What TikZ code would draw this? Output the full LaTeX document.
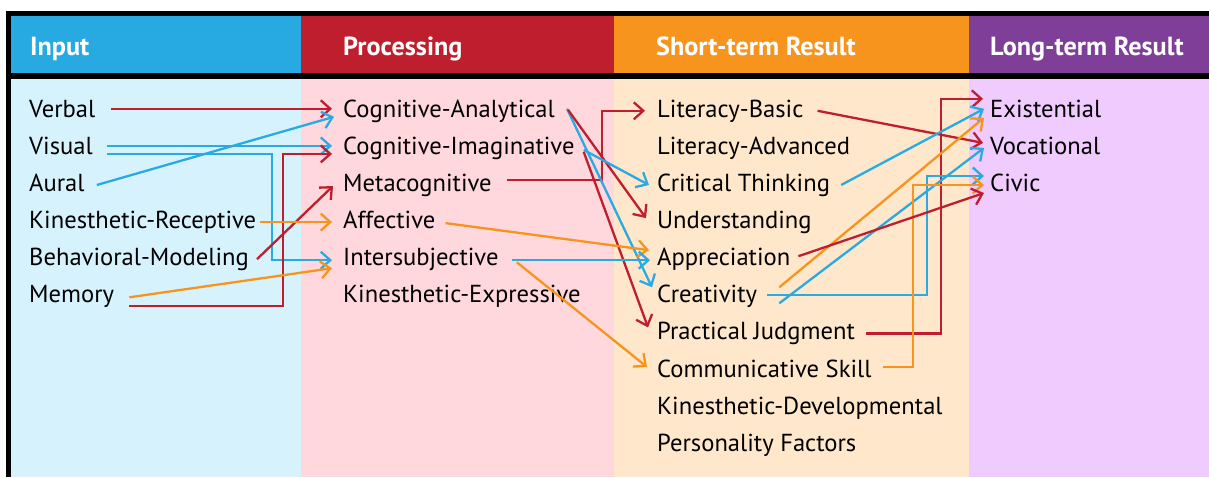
\documentclass[tikz,border=0pt]{standalone}
\usepackage{fontspec}
\setmainfont{PT Sans}
\usetikzlibrary{arrows.meta,calc}
\definecolor{hblue}{HTML}{27AAE1}
\definecolor{hred}{HTML}{BE1E2D}
\definecolor{horange}{HTML}{F7941E}
\definecolor{hpurple}{HTML}{7F3F98}
\definecolor{bblue}{HTML}{D6F3FD}
\definecolor{bpink}{HTML}{FFD8DD}
\definecolor{bpeach}{HTML}{FFE7CB}
\definecolor{blav}{HTML}{EFCBFE}
\definecolor{lred}{HTML}{BE1E2D}
\definecolor{lblue}{HTML}{29ABE2}
\definecolor{lorange}{HTML}{F7941E}
\begin{document}
\begin{tikzpicture}[x=1pt,y=-1pt,
  lbl/.style={anchor=base west, inner xsep=0pt, inner ysep=0pt, text height=17pt, text depth=0pt, font=\fontsize{24.6}{28}\selectfont},
  hdr/.style={anchor=base west, inner sep=0pt, text=white, font=\fontsize{26.2}{30}\selectfont\bfseries},
  conn/.style={line width=2.3pt, -{Straight Barb[length=9.5pt,width=17pt]}},
  cr/.style={conn, draw=lred},
  cb/.style={conn, draw=lblue},
  co/.style={conn, draw=lorange}]
\useasboundingbox (0,0) rectangle (1209,477);
% backgrounds
\fill[white] (0,0) rectangle (1209,477);
\fill[hblue] (11,16) rectangle (301,73);
\fill[hred] (301,16) rectangle (614,73);
\fill[horange] (614,16) rectangle (969,73);
\fill[hpurple] (969,16) rectangle (1209,73);
\fill[bblue] (11,79) rectangle (301,477);
\fill[bpink] (301,79) rectangle (614,477);
\fill[bpeach] (614,79) rectangle (969,477);
\fill[blav] (969,79) rectangle (1209,477);
\fill[black] (6,11) rectangle (1209,16);
\fill[black] (6,73) rectangle (1209,79);
\fill[black] (6,11) rectangle (11,477);
% headers
\node[hdr] (hin) at (30,55) {Input};
\node[hdr] (hpro) at (343,55) {Processing};
\node[hdr] (hshort) at (656,55) {Short-term Result};
\node[hdr] (hlong) at (990,55) {Long-term Result};
% input
\node[lbl] (verbal) at (29,117.3) {Verbal};
\node[lbl] (visual) at (29,154.4) {Visual};
\node[lbl] (aural) at (29,191.5) {Aural};
\node[lbl] (kinrec) at (29,228.6) {Kinesthetic-Receptive};
\node[lbl] (behmod) at (29,265.7) {Behavioral-Modeling};
\node[lbl] (memory) at (29,302.8) {Memory};
% processing
\node[lbl] (cogana) at (343,117.3) {Cognitive-Analytical};
\node[lbl] (cogima) at (343,154.4) {Cognitive-Imaginative};
\node[lbl] (meta) at (343,191.5) {Metacognitive};
\node[lbl] (affect) at (343,228.6) {Affective};
\node[lbl] (inter) at (343,265.7) {Intersubjective};
\node[lbl] (kinexp) at (343,302.8) {Kinesthetic-Expressive};
% short-term
\node[lbl] (litb) at (657,117.3) {Literacy-Basic};
\node[lbl] (lita) at (657,154.4) {Literacy-Advanced};
\node[lbl] (crit) at (657,191.5) {Critical Thinking};
\node[lbl] (under) at (657,228.6) {Understanding};
\node[lbl] (appr) at (657,265.7) {Appreciation};
\node[lbl] (creat) at (657,302.8) {Creativity};
\node[lbl] (pract) at (657,339.9) {Practical Judgment};
\node[lbl] (comm) at (657,377.0) {Communicative Skill};
\node[lbl] (kindev) at (657,414.1) {Kinesthetic-Developmental};
\node[lbl] (pers) at (657,451.2) {Personality Factors};
% long-term
\node[lbl] (exist) at (990,117.3) {Existential};
\node[lbl] (voc) at (990,154.4) {Vocational};
\node[lbl] (civic) at (990,191.5) {Civic};
% input -> processing
\draw[cr] ($(verbal.east)+(16,0)$) -- ($(cogana.west)+(-11,0)$);
\draw[cb] ($(aural.east)+(12,2)$) -- ($(cogana.west)+(-9,8)$);
\draw[cb] ($(visual.east)+(14,0)$) -- ($(cogima.west)+(-11,0)$);
\draw[cb] ($(visual.east)+(14,8)$) -| ($(inter.west)+(-71,3)$) -- ($(inter.west)+(-11,3)$);
\draw[cr] ($(memory.east)+(15,12)$) -| ($(cogima.west)+(-60,8)$) -- ($(cogima.west)+(-11,8)$);
\draw[cr] ($(behmod.east)+(8,2)$) -- ($(meta.west)+(-10,3)$);
\draw[co] ($(kinrec.east)+(4,2)$) -- ($(affect.west)+(-11,2)$);
\draw[co] ($(memory.east)+(15,3)$) -- ($(inter.west)+(-11,11)$);
% processing -> short-term
\draw[cr] ($(meta.east)+(15,-3)$) -| ($(litb.west)+(-55,2)$) -- ($(litb.west)+(-12,2)$);
\draw[cb] ($(cogana.east)+(12,0)$) -- ($(creat.west)+(-5,-7)$);
\draw[cr] ($(cogana.east)+(13,1)$) -- ($(under.west)+(-11,-2)$);
\draw[cb] ($(cogima.east)+(9,4)$) -- ($(crit.west)+(-8,2)$);
\draw[cr] ($(cogima.east)+(9,6)$) -- ($(pract.west)+(-9,-4)$);
\draw[co] ($(affect.east)+(10,3)$) -- ($(appr.west)+(-8,-7)$);
\draw[cb] ($(inter.east)+(13,3)$) -- ($(appr.west)+(-7,3)$);
\draw[co] ($(inter.east)+(18,5)$) -- ($(comm.west)+(-10,-1.5)$);
% short-term -> long-term
\draw[cr] ($(litb.east)+(14,2)$) -- ($(voc.west)+(-7,-3)$);
\draw[cr] ($(pract.east)+(11,2)$) -| ($(exist.west)+(-49,-10)$) -- ($(exist.west)+(-7,-10)$);
\draw[cb] ($(crit.east)+(11,2)$) -- ($(exist.west)+(-6,0)$);
\draw[co] ($(creat.east)+(22,-7)$) -- ($(exist.west)+(-6,9)$);
\draw[cb] ($(creat.east)+(22,9)$) -- ($(voc.west)+(-6,2)$);
\draw[cb] ($(creat.east)+(10,1)$) -| ($(civic.west)+(-63,-7)$) -- ($(civic.west)+(-6,-7)$);
\draw[co] ($(comm.east)+(11,-1.5)$) -| ($(civic.west)+(-77,2)$) -- ($(civic.west)+(-6,2)$);
\draw[cr] ($(appr.east)+(8,-1)$) -- ($(civic.west)+(-6,10)$);
\end{tikzpicture}
\end{document}
